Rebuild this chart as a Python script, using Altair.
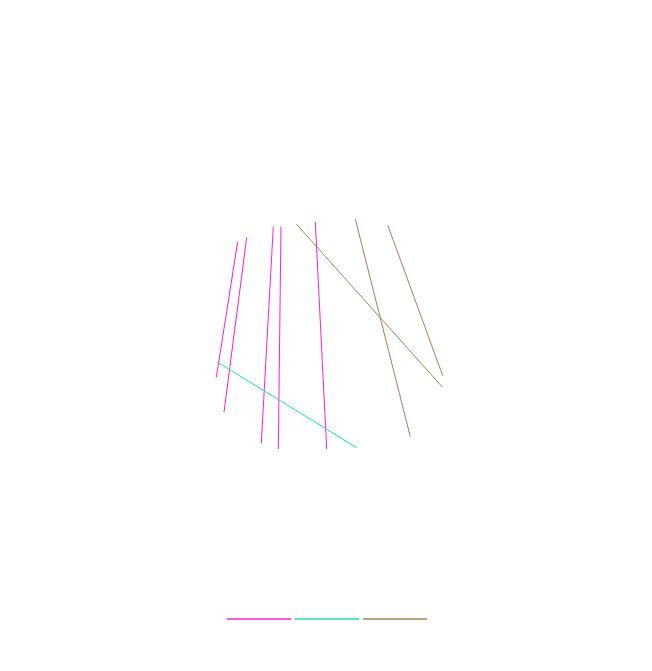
import altair as alt
import pandas as pd

# segment endpoints (plot units: x 0..626, y 0..590 upward)
group = ["a", "a", "a", "a", "a", "b", "c", "c", "c"]
x_start = [224.7, 233.7, 260.3, 268.0, 302.3, 203.7, 283.3, 342.3, 374.7]
y_start = [361.3, 365.7, 376.3, 376.3, 381.3, 241.3, 379.0, 384.0, 378.0]
x_end = [203.3, 211.0, 248.3, 265.3, 313.7, 343.7, 429.3, 397.3, 429.7]
y_end = [225.7, 191.0, 159.7, 154.0, 154.0, 155.3, 216.0, 166.3, 227.3]

df = pd.DataFrame({"g": group, "x": x_start, "y": y_start, "x2": x_end, "y2": y_end})

chart = alt.Chart(df).mark_rule(strokeWidth=1).encode(
    x=alt.X("x:Q", scale=alt.Scale(domain=[0, 626], nice=False, zero=False), axis=None),
    x2="x2:Q",
    y=alt.Y("y:Q", scale=alt.Scale(domain=[0, 590], nice=False, zero=False), axis=None),
    y2="y2:Q",
    color=alt.Color(
        "g:N",
        scale=alt.Scale(domain=["a", "b", "c"], range=["#ff22cc", "#22ddaa", "#a0825f"]),
        legend=alt.Legend(
            orient="none",
            legendX=213,
            legendY=573,
            direction="horizontal",
            title=None,
            symbolType="stroke",
            symbolSize=4096,
            symbolStrokeWidth=1.5,
            labelExpr="''",
            labelOffset=0,
            columnPadding=-2,
        ),
    ),
).properties(width=626, height=590).configure_view(stroke=None)

chart.save("out.html", embed_options={"renderer": "svg", "actions": False})
